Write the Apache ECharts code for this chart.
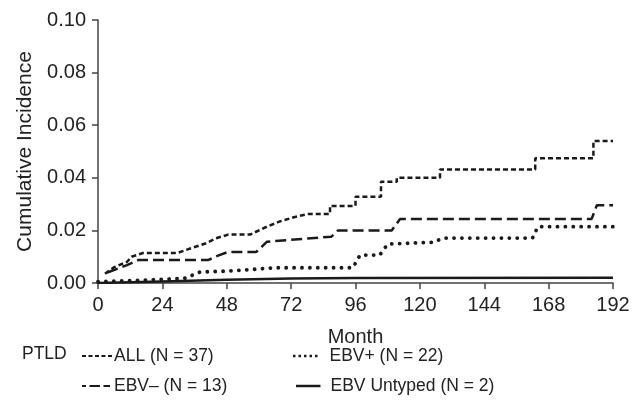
<!DOCTYPE html>
<html>
<head>
<meta charset="utf-8">
<script src="https://cdn.jsdelivr.net/npm/echarts@6/dist/echarts.min.js"></script>
<style>html,body{margin:0;padding:0;background:#fff}#c{width:644px;height:417px}</style>
</head>
<body>
<div id="c"></div>
<script>
var xTicks = [0, 24, 48, 72, 96, 120, 144, 168, 192];
var yTicks = [0.00, 0.02, 0.04, 0.06, 0.08, 0.10];
var seriesNames = ['ALL (N = 37)', 'EBV+ (N = 22)', 'EBV\u2013 (N = 13)', 'EBV Untyped (N = 2)'];

var allMonths = [2.6, 6, 10.8, 12.5, 16.8, 29.5, 34, 40, 44, 48.5, 56.7, 62, 68, 73, 78, 86.5, 86.5, 96, 96, 105.5, 105.5, 111.4, 111.4, 127.5, 127.5, 163, 163, 184.7, 184.7, 192];
var allValues = [0.0035, 0.006, 0.008, 0.010, 0.0114, 0.0114, 0.013, 0.015, 0.017, 0.0184, 0.0184, 0.021, 0.0235, 0.025, 0.0262, 0.0262, 0.0293, 0.0293, 0.0328, 0.0328, 0.0385, 0.0385, 0.040, 0.040, 0.0432, 0.0432, 0.0474, 0.0474, 0.054, 0.054];

var posMonths = [0, 16, 32.4, 38, 48, 66.7, 95, 97.7, 105, 108, 125, 128.6, 162, 164, 192];
var posValues = [0.0005, 0.001, 0.0018, 0.0042, 0.0045, 0.0058, 0.0058, 0.0106, 0.0106, 0.0148, 0.0155, 0.0171, 0.0171, 0.0214, 0.0214];

var negMonths = [3.5, 10.8, 15, 41, 45, 48.5, 59, 63, 87, 89.5, 109.5, 112.6, 184, 186, 192];
var negValues = [0.004, 0.0068, 0.0087, 0.0087, 0.0105, 0.0118, 0.0118, 0.0157, 0.0176, 0.020, 0.020, 0.0243, 0.0243, 0.0296, 0.0296];

var untMonths = [0, 24, 48, 72, 96, 192];
var untValues = [0, 0.0006, 0.0012, 0.0017, 0.0019, 0.002];

function pairs(m, v) { return m.map(function (x, i) { return [x, v[i]]; }); }

var font = 'Liberation Sans, Arial, Helvetica, sans-serif';
var chart = echarts.init(document.getElementById('c'));

var iconAll = 'path://M0,0h4v2h-4z M6.5,0h4v2h-4z M13,0h4v2h-4z M19.5,0h4v2h-4z M26,0h4v2h-4z';
var iconPos = 'path://M0,0h2.5v2.5h-2.5z M5.5,0h2.5v2.5h-2.5z M11,0h2.5v2.5h-2.5z M16.5,0h2.5v2.5h-2.5z M22,0h2.5v2.5h-2.5z';
var iconNeg = 'path://M0,0h4v2h-4z M7.5,0h10.5v2h-10.5z M21.5,0h6.5v2h-6.5z';
var iconUnt = 'path://M0,0h24.5v2.5h-24.5z';

function legendAt(name, left, top, icon, w, h, pad) {
  return {
    data: [{ name: name, icon: icon }], left: left, top: top, orient: 'horizontal',
    itemWidth: w, itemHeight: h, itemGap: 0, padding: 0,
    selectedMode: false, symbolKeepAspect: false,
    textStyle: { fontFamily: font, fontSize: 17.5, color: '#222', padding: [0, 0, 0, pad] }
  };
}

chart.setOption({
  animation: false,
  backgroundColor: '#fff',
  title: {
    text: 'PTLD', left: 22, top: 345,
    textStyle: { fontFamily: font, fontSize: 17.5, fontWeight: 'normal', color: '#222' }, padding: 0
  },
  legend: [
    legendAt(seriesNames[0], 82, 347, iconAll, 30, 2, -3),
    legendAt(seriesNames[1], 293, 347, iconPos, 24.5, 2.5, 7),
    legendAt(seriesNames[2], 82, 377, iconNeg, 28, 2, -1),
    legendAt(seriesNames[3], 296, 377, iconUnt, 24.5, 2.5, 5)
  ],
  grid: { left: 98, right: 31, top: 20, bottom: 134, containLabel: false },
  xAxis: {
    type: 'value', min: 0, max: 192, interval: 24,
    name: 'Month', nameLocation: 'middle', nameGap: 44,
    nameTextStyle: { fontFamily: font, fontSize: 20, color: '#222' },
    axisLine: { show: true, onZero: false, lineStyle: { color: '#444', width: 1.5 } },
    axisTick: { show: true, length: 6, lineStyle: { color: '#444', width: 1.5 } },
    axisLabel: { fontFamily: font, fontSize: 20, color: '#222', margin: 12,
      formatter: function (v) { return xTicks.indexOf(v) >= 0 ? String(v) : ''; } },
    splitLine: { show: false }
  },
  yAxis: {
    type: 'value', min: 0, max: 0.1, interval: 0.02,
    name: 'Cumulative Incidence', nameLocation: 'middle', nameGap: 62,
    nameTextStyle: { fontFamily: font, fontSize: 21, color: '#222' },
    axisLine: { show: true, lineStyle: { color: '#444', width: 1.5 } },
    axisTick: { show: true, length: 6, lineStyle: { color: '#444', width: 1.5 } },
    axisLabel: { fontFamily: font, fontSize: 20, color: '#222', margin: 12,
      formatter: function (v) { return v.toFixed(2); } },
    splitLine: { show: false }
  },
  series: [
    { name: seriesNames[0], type: 'line', symbol: 'none', data: pairs(allMonths, allValues),
      lineStyle: { color: '#1a1a1a', width: 2.5, type: [5, 3] }, itemStyle: { color: '#1a1a1a' }, z: 4 },
    { name: seriesNames[1], type: 'line', symbol: 'none', data: pairs(posMonths, posValues),
      lineStyle: { color: '#1a1a1a', width: 3.8, type: [0.1, 7.8], cap: 'round' }, itemStyle: { color: '#1a1a1a' }, z: 3 },
    { name: seriesNames[2], type: 'line', symbol: 'none', data: pairs(negMonths, negValues),
      lineStyle: { color: '#1a1a1a', width: 2.5, type: [11, 5] }, itemStyle: { color: '#1a1a1a' }, z: 3 },
    { name: seriesNames[3], type: 'line', symbol: 'none', data: pairs(untMonths, untValues),
      lineStyle: { color: '#1a1a1a', width: 2.5, type: 'solid' }, itemStyle: { color: '#1a1a1a' }, z: 2 }
  ]
});
</script>
</body>
</html>
